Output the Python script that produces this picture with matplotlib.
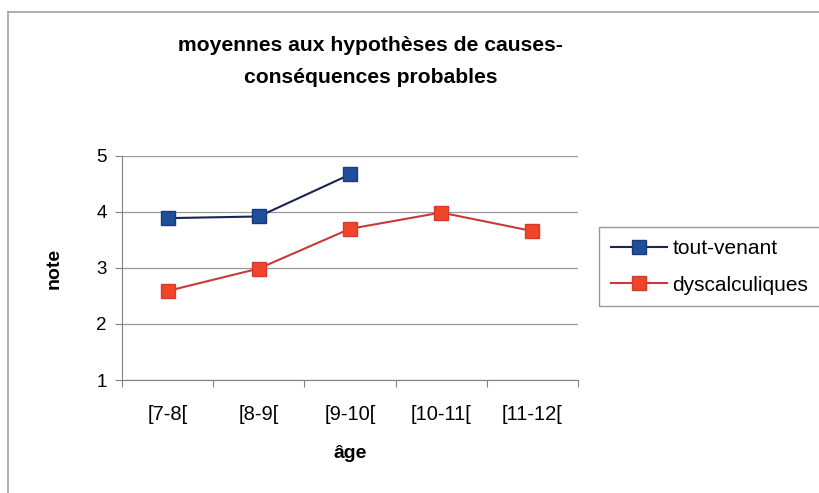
import matplotlib
matplotlib.use("Agg")
import matplotlib.pyplot as plt
import numpy as np
from matplotlib.lines import Line2D

categories = ["[7-8[", "[8-9[", "[9-10[", "[10-11[", "[11-12["]
tout_venant = [3.89, 3.92, 4.67]
dyscalculiques = [2.59, 2.99, 3.70, 3.99, 3.66]
yticks = [1, 2, 3, 4, 5]

plt.rcParams['font.family'] = ['Liberation Sans', 'DejaVu Sans']

fig = plt.figure(figsize=(8.2, 4.93), dpi=100)
ax = fig.add_axes([0.1488, 0.2292, 0.556, 0.4544])

x_all = np.arange(len(categories))
ax.plot(x_all[:len(tout_venant)], tout_venant, color='#1a2550', lw=1.5,
        marker='s', markersize=9.5, markerfacecolor='#1f4e9a', markeredgecolor='#1a3a7a',
        label='tout-venant', zorder=3)
ax.plot(x_all, dyscalculiques, color='#c83a3a', lw=1.5,
        marker='s', markersize=9.5, markerfacecolor='#f0452a', markeredgecolor='#d83a2a',
        label='dyscalculiques', zorder=3)

ax.set_xlim(-0.5, len(categories) - 0.5)
ax.set_ylim(1, 5)
ax.set_yticks(yticks)
ax.set_xticks(np.arange(-0.5, len(categories), 1.0))
ax.set_xticklabels([])
ax.set_xticks(x_all, minor=True)
ax.set_xticklabels(categories, minor=True, fontsize=14.5)
ax.tick_params(axis='x', which='minor', length=0, pad=18)
ax.tick_params(axis='x', which='major', length=5, color='#808080', direction='out')
ax.tick_params(axis='y', length=5, color='#808080', labelsize=13.5, pad=6)
ax.yaxis.grid(True, color='#9a9a9a', lw=0.9)
ax.set_axisbelow(True)
for s in ['top', 'right']:
    ax.spines[s].set_visible(False)
for s in ['left', 'bottom']:
    ax.spines[s].set_color('#808080')

ax.set_xlabel('âge', fontsize=14, fontweight='bold', labelpad=15)
ax.set_ylabel('note', fontsize=14, fontweight='bold', labelpad=24)

fig.text(0.452, 0.9087, 'moyennes aux hypothèses de causes-', ha='center', va='center',
         fontsize=15.2, fontweight='bold')
fig.text(0.452, 0.8418, 'conséquences probables', ha='center', va='center',
         fontsize=15.2, fontweight='bold')

leg = ax.legend(loc='upper left', bbox_to_anchor=(0.7305, 0.5396), bbox_transform=fig.transFigure,
                fontsize=15, frameon=True, fancybox=False, borderpad=0.57,
                handlelength=2.7, handletextpad=0.25, labelspacing=0.85, borderaxespad=0)
leg.get_frame().set_edgecolor('#808080')
leg.get_frame().set_linewidth(1.0)

# scan frame: top and left edges only
fig.add_artist(Line2D([8 / 820, 1.0], [1 - 12 / 493, 1 - 12 / 493], transform=fig.transFigure,
                      color='#a0a0a0', lw=1.2))
fig.add_artist(Line2D([8 / 820, 8 / 820], [0.0, 1 - 12 / 493], transform=fig.transFigure,
                      color='#a0a0a0', lw=1.2))

fig.savefig('out.png', dpi=100)
